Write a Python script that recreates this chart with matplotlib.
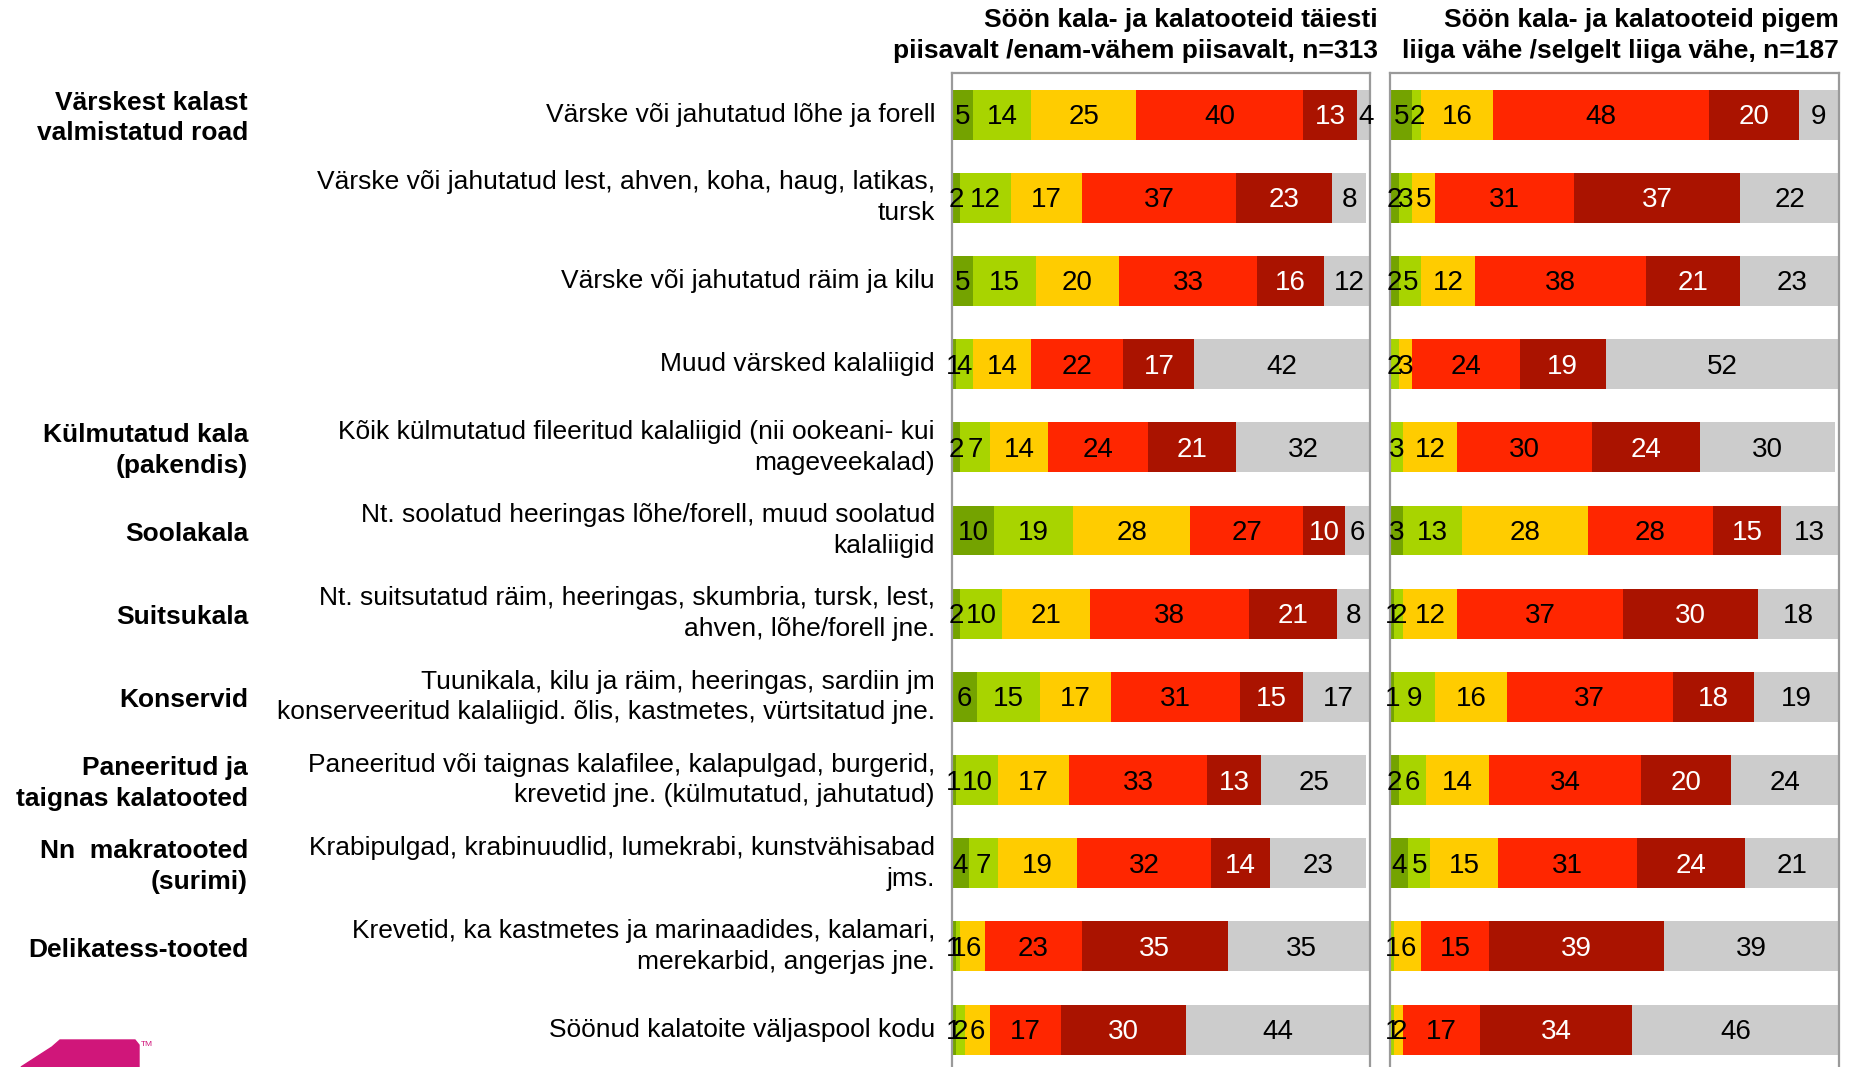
import matplotlib
matplotlib.use("Agg")
import matplotlib.pyplot as plt
import numpy as np
from matplotlib.patches import Polygon

plt.rcParams['font.family'] = ['Liberation Sans', 'DejaVu Sans']
NARROW = ['Liberation Sans Narrow', 'Liberation Sans', 'DejaVu Sans']

# --- data -------------------------------------------------------------
group_labels = ["Värskest kalast\nvalmistatud road", "", "", "",
                "Külmutatud kala\n(pakendis)", "Soolakala", "Suitsukala",
                "Konservid", "Paneeritud ja\ntaignas kalatooted",
                "Nn  makratooted\n(surimi)", "Delikatess-tooted", ""]

row_labels = [
    "Värske või jahutatud lõhe ja forell",
    "Värske või jahutatud lest, ahven, koha, haug, latikas,\ntursk",
    "Värske või jahutatud räim ja kilu",
    "Muud värsked kalaliigid",
    "Kõik külmutatud fileeritud kalaliigid (nii ookeani- kui\nmageveekalad)",
    "Nt. soolatud heeringas lõhe/forell, muud soolatud\nkalaliigid",
    "Nt. suitsutatud räim, heeringas, skumbria, tursk, lest,\nahven, lõhe/forell jne.",
    "Tuunikala, kilu ja räim, heeringas, sardiin jm\nkonserveeritud kalaliigid. õlis, kastmetes, vürtsitatud jne.",
    "Paneeritud või taignas kalafilee, kalapulgad, burgerid,\nkrevetid jne. (külmutatud, jahutatud)",
    "Krabipulgad, krabinuudlid, lumekrabi, kunstvähisabad\njms.",
    "Krevetid, ka kastmetes ja marinaadides, kalamari,\nmerekarbid, angerjas jne.",
    "Söönud kalatoite väljaspool kodu",
]

title_left = "Söön kala- ja kalatooteid täiesti\npiisavalt /enam-vähem piisavalt, n=313"
title_right = "Söön kala- ja kalatooteid pigem\nliiga vähe /selgelt liiga vähe, n=187"

# columns: dark green, light green, yellow, red, dark red, grey
left_values = [
    [5, 14, 25, 40, 13, 4],
    [2, 12, 17, 37, 23, 8],
    [5, 15, 20, 33, 16, 12],
    [1, 4, 14, 22, 17, 42],
    [2, 7, 14, 24, 21, 32],
    [10, 19, 28, 27, 10, 6],
    [2, 10, 21, 38, 21, 8],
    [6, 15, 17, 31, 15, 17],
    [1, 10, 17, 33, 13, 25],
    [4, 7, 19, 32, 14, 23],
    [1, 1, 6, 23, 35, 35],
    [1, 2, 6, 17, 30, 44],
]
right_values = [
    [5, 2, 16, 48, 20, 9],
    [2, 3, 5, 31, 37, 22],
    [2, 5, 12, 38, 21, 23],
    [0, 2, 3, 24, 19, 52],
    [0, 3, 12, 30, 24, 30],
    [3, 13, 28, 28, 15, 13],
    [1, 2, 12, 37, 30, 18],
    [1, 9, 16, 37, 18, 19],
    [2, 6, 14, 34, 20, 24],
    [4, 5, 15, 31, 24, 21],
    [0, 1, 6, 15, 39, 39],
    [0, 1, 2, 17, 34, 46],
]

colors = ['#74a300', '#a8d400', '#ffcc00', '#ff2600', '#aa1300', '#cccccc']
text_colors = ['black', 'black', 'black', 'black', 'white', 'black']

W, H = 1852, 1067
fig = plt.figure(figsize=(W / 100, H / 100), dpi=100)

n = len(row_labels)
ypos = np.arange(n)
y_top, y_bottom = -0.5, 11.45  # axes spans 73px..1067px


def panel(x0, x1, values, title, title_right_px):
    ax = fig.add_axes([x0 / W, 0, (x1 - x0) / W, 1 - 73 / H])
    vals = np.array(values, dtype=float)
    left = np.zeros(n)
    for k in range(vals.shape[1]):
        ax.barh(ypos, vals[:, k], left=left, height=0.6, color=colors[k],
                edgecolor='none')
        for i in range(n):
            v = vals[i, k]
            if v > 0:
                ax.text(left[i] + v / 2, ypos[i] + 0.03, f"{int(v)}", ha='center',
                        va='center', fontsize=20, family=NARROW,
                        color=text_colors[k], clip_on=False)
        left += vals[:, k]
    ax.set_xlim(0, 100)
    ax.set_ylim(y_bottom, y_top)
    ax.set_xticks([])
    ax.set_yticks([])
    for s in ['top', 'left', 'right']:
        ax.spines[s].set_color('#9a9a9a')
        ax.spines[s].set_linewidth(1.6)
    ax.spines['bottom'].set_visible(False)
    fig.text(title_right_px / W, 1 - 8 / H, title, ha='right', va='top',
             fontsize=19, fontweight='bold', family=NARROW, linespacing=1.38)
    return ax


ax_l = panel(952, 1370, left_values, title_left, 1378)
ax_r = panel(1390, 1839, right_values, title_right, 1839)

# row labels and group labels, placed relative to the left panel
for i in range(n):
    ax_l.text(-(952 - 935) / (1370 - 952) * 100, ypos[i], row_labels[i],
              ha='right', va='center', fontsize=19, multialignment='right',
              linespacing=1.35, clip_on=False)
    if group_labels[i]:
        ax_l.text(-(952 - 248) / (1370 - 952) * 100, ypos[i] + 0.04,
                  group_labels[i], ha='right', va='center', fontsize=19,
                  fontweight='bold', multialignment='right', linespacing=1.35,
                  clip_on=False)

# logo at the bottom left corner
logo = Polygon([[21 / W, 0], [52 / W, 1 - 1047 / H], [60 / W, 1 - 1040 / H],
                [135 / W, 1 - 1040 / H], [139 / W, 1 - 1045 / H], [139 / W, 0]],
               closed=True, transform=fig.transFigure, color='#d0167a')
fig.add_artist(logo)
fig.text(141 / W, 1 - 1045 / H, "TM", fontsize=6, color='#d0167a',
         ha='left', va='center')

fig.savefig("out.png", dpi=100)
